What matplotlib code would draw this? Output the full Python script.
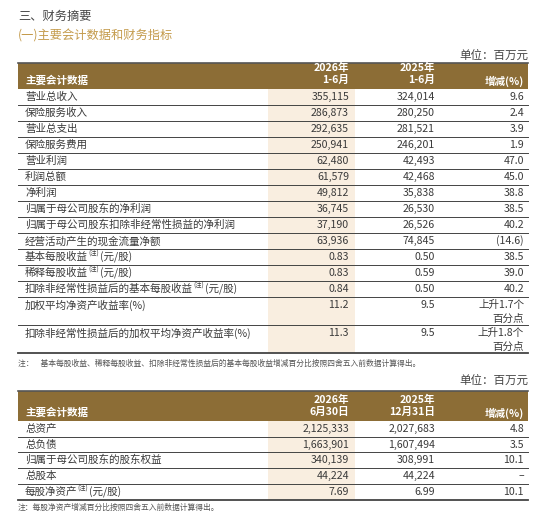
import matplotlib
matplotlib.use("Agg")
import matplotlib.pyplot as plt
from matplotlib.patches import Rectangle

plt.rcParams['font.family'] = ['Noto Sans CJK SC', 'DejaVu Sans']

W, H = 550, 519
fig = plt.figure(figsize=(W/100, H/100), dpi=100)
ax = fig.add_axes([0, 0, 1, 1])
ax.set_xlim(0, W); ax.set_ylim(H, 0); ax.axis('off')

HEAD = '#8c6d36'; HL = '#f9eee0'; TXT = '#3a3a3a'; GOLD = '#c49b4c'

title = "三、财务摘要"
subtitle = "(一)主要会计数据和财务指标"
unit = "单位：百万元"

t1_labels = ["营业总收入", "保险服务收入", "营业总支出", "保险服务费用", "营业利润", "利润总额", "净利润",
             "归属于母公司股东的净利润", "归属于母公司股东扣除非经常性损益的净利润", "经营活动产生的现金流量净额",
             ["基本每股收益", "(注)", "(元/股)"], ["稀释每股收益", "(注)", "(元/股)"],
             ["扣除非经常性损益后的基本每股收益", "(注)", "(元/股)"],
             "加权平均净资产收益率(%)", "扣除非经常性损益后的加权平均净资产收益率(%)"]
t1_2026 = ["355,115", "286,873", "292,635", "250,941", "62,480", "61,579", "49,812", "36,745", "37,190",
           "63,936", "0.83", "0.83", "0.84", "11.2", "11.3"]
t1_2025 = ["324,014", "280,250", "281,521", "246,201", "42,493", "42,468", "35,838", "26,530", "26,526",
           "74,845", "0.50", "0.59", "0.50", "9.5", "9.5"]
t1_chg = ["9.6", "2.4", "3.9", "1.9", "47.0", "45.0", "38.8", "38.5", "40.2", "(14.6)", "38.5", "39.0",
          "40.2", "上升1.7个\n百分点", "上升1.8个\n百分点"]
t1_head = ["主要会计数据", "2026年\n1-6月", "2025年\n1-6月", "增减(%)"]
note1 = "注：    基本每股收益、稀释每股收益、扣除非经常性损益后的基本每股收益增减百分比按照四舍五入前数据计算得出。"

t2_labels = ["总资产", "总负债", "归属于母公司股东的股东权益", "总股本", ["每股净资产", "(注)", "(元/股)"]]
t2_2026 = ["2,125,333", "1,663,901", "340,139", "44,224", "7.69"]
t2_2025 = ["2,027,683", "1,607,494", "308,991", "44,224", "6.99"]
t2_chg = ["4.8", "3.5", "10.1", "–", "10.1"]
t2_head = ["主要会计数据", "2026年\n6月30日", "2025年\n12月31日", "增减(%)"]
note2 = "注：每股净资产增减百分比按照四舍五入前数据计算得出。"

L, R = 18, 528
HX0, HX1 = 268, 355
C1, C2, C3 = 349, 435, 524
FS = 7.6
fig.canvas.draw()
rend = fig.canvas.get_renderer()

ax.text(L, 16, title, fontsize=8.8, color='#444', va='center', weight='light')
ax.text(L, 36, subtitle, fontsize=8.8, color=GOLD, va='center', weight='light')

def label(x, y, lab):
    if isinstance(lab, str):
        ax.text(x, y, lab, fontsize=FS, color=TXT, va='center', weight='light')
        return
    for k, part in enumerate(lab):
        small = (k == 1)
        t = ax.text(x, y - (3 if small else 0), part, fontsize=(4.5 if small else FS),
                    color=TXT, va='center', weight='light')
        bb = t.get_window_extent(rend)
        x += bb.width + (1 if small else 0)

def table(y_unit, top, hb, rows, labels, a, b, c, head):
    ax.text(R, y_unit, unit, fontsize=8.3, color='#444', ha='right', va='center', weight='light')
    ax.add_patch(Rectangle((L, top), R-L, hb-top, color=HEAD, lw=0))
    ax.plot([L, R], [top, top], color='#555', lw=1.2)
    ax.text(L+7, hb-8, head[0], fontsize=FS, color='white', weight='bold', va='center')
    for x, h in zip([C1, C2], head[1:3]):
        ax.text(x, hb-15, h, fontsize=FS, color='white', weight='bold', va='center', ha='right',
                linespacing=1.25)
    ax.text(C3, hb-8, head[3], fontsize=FS, color='white', weight='bold', va='center', ha='right')
    ax.add_patch(Rectangle((HX0, hb), HX1-HX0, rows[-1][1]-hb, color=HL, lw=0))
    for i, (y0, y1) in enumerate(rows):
        yc = y0 + 8
        label(L+7, yc, labels[i])
        ax.text(C1, yc, a[i], fontsize=FS, color=TXT, ha='right', va='center', weight='light')
        ax.text(C2, yc, b[i], fontsize=FS, color=TXT, ha='right', va='center', weight='light')
        if '\n' in c[i]:
            l1, l2 = c[i].split('\n')
            ax.text(C3, yc, l1, fontsize=FS, color=TXT, ha='right', va='center', weight='light')
            ax.text(C3, yc+14, l2, fontsize=FS, color=TXT, ha='right', va='center', weight='light')
        else:
            ax.text(C3, yc, c[i], fontsize=FS, color=TXT, ha='right', va='center', weight='light')
        last = i == len(rows)-1
        ax.plot([L, R], [y1, y1], color='#444', lw=1.3 if last else 0.7)

rows1 = [(89+16*i, 105+16*i) for i in range(13)] + [(297, 325), (325, 353)]
table(55, 63, 89, rows1, t1_labels, t1_2026, t1_2025, t1_chg, t1_head)
ax.text(L, 364, note1, fontsize=5.6, color='#555', va='center', weight='light')

rows2 = [(421, 437), (437, 452), (452, 468), (468, 484), (484, 500)]
table(380, 391, 421, rows2, t2_labels, t2_2026, t2_2025, t2_chg, t2_head)
ax.text(L, 508, note2, fontsize=5.6, color='#555', va='center', weight='light')

fig.savefig("out.png", dpi=100)
